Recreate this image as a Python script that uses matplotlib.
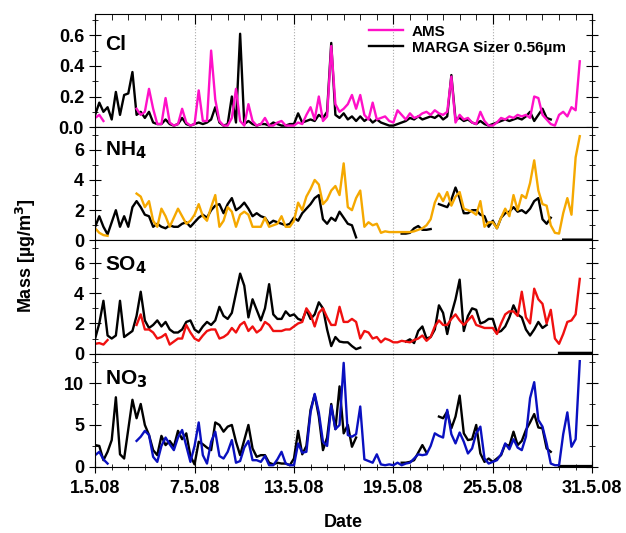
import numpy as np
import matplotlib.pyplot as plt
from matplotlib.ticker import MultipleLocator, FixedLocator

plt.rcParams['font.family'] = ['Liberation Sans', 'DejaVu Sans']
plt.rcParams['font.weight'] = 'bold'

nan = np.nan
# time axis: day of May 2008, 6-hourly
days = np.arange(1, 31.01, 0.25)
date_ticks = [1, 7, 13, 19, 25, 31]
date_labels = ['1.5.08', '7.5.08', '13.5.08', '19.5.08', '25.5.08', '31.5.08']

# Cl
cl_marga = [0.08, 0.16, 0.10, 0.13, 0.05, 0.23, 0.08, 0.21, 0.22, 0.36, 0.08, 0.10,
            0.06, 0.10, 0.03, 0.02, 0.02, 0.05, 0.02, 0.01, 0.02, 0.06, 0.02, 0.01,
            0.02, 0.03, 0.02, 0.03, 0.05, 0.13, 0.03, 0.01, 0.02, 0.20, 0.03, 0.61,
            0.02, 0.04, 0.02, 0.01, 0.02, 0.02, 0.01, 0.03, 0.02, 0.01, 0.01, 0.02,
            0.02, 0.09, 0.03, 0.04, 0.05, 0.04, 0.08, 0.06, 0.10, 0.55, 0.08, 0.06,
            0.09, 0.05, 0.07, 0.04, 0.07, 0.04, 0.06, 0.03, 0.05, 0.03, 0.02, 0.01,
            0.01, 0.02, 0.03, 0.04, 0.06, 0.05, 0.07, 0.05, 0.06, 0.07, 0.06, 0.08,
            0.05, 0.07, 0.34, 0.05, 0.06, 0.04, 0.05, 0.03, 0.02, 0.04, 0.02, 0.01,
            0.02, 0.03, 0.04, 0.05, 0.04, 0.05, 0.06, 0.05, 0.07, 0.10, 0.04, 0.08,
            0.12, 0.06, 0.05, nan, nan, nan, nan, nan, nan, nan, nan, nan, nan]
cl_ams = [0.06, 0.08, 0.04, nan, nan, nan, nan, nan, nan, nan, 0.12, 0.08,
          0.10, 0.25, 0.12, 0.02, 0.02, 0.19, 0.03, 0.01, 0.02, 0.12, 0.03, 0.01,
          0.02, 0.24, 0.04, 0.04, 0.50, 0.18, 0.04, 0.01, 0.01, 0.06, 0.25, 0.04,
          0.01, 0.15, 0.04, 0.01, 0.02, 0.06, 0.01, 0.01, 0.03, 0.04, 0.01, 0.01,
          0.01, 0.03, 0.02, 0.08, 0.13, 0.05, 0.20, 0.04, 0.07, 0.53, 0.15, 0.10,
          0.12, 0.15, 0.21, 0.12, 0.21, 0.08, 0.05, 0.16, 0.05, 0.06, 0.07, 0.04,
          0.03, 0.11, 0.08, 0.05, 0.09, 0.06, 0.07, 0.09, 0.10, 0.08, 0.11, 0.09,
          0.08, 0.10, 0.33, 0.03, 0.08, 0.05, 0.06, 0.03, 0.02, 0.10, 0.04, 0.01,
          0.01, 0.03, 0.06, 0.05, 0.07, 0.06, 0.08, 0.07, 0.08, 0.06, 0.20, 0.19,
          0.08, 0.05, 0.02, 0.01, 0.08, 0.10, 0.07, 0.13, 0.11, 0.43, nan, nan, nan]

# NH4
nh4_marga = [0.9, 1.6, 0.9, 0.4, 1.2, 2.0, 0.9, 1.6, 0.9, 2.2, 2.6, 2.2,
             1.7, 1.6, 0.9, 1.1, 0.9, 0.8, 1.0, 0.9, 0.9, 1.1, 1.2, 0.9,
             1.2, 1.5, 1.7, 1.5, 2.0, 2.3, 2.4, 1.8, 2.4, 2.8, 2.0, 2.2,
             2.5, 2.1, 1.6, 1.8, 1.6, 1.5, 1.1, 1.3, 1.2, 1.1, 1.0, 1.1,
             1.5, 1.3, 1.8, 2.1, 2.4, 2.8, 3.0, 1.4, 1.1, 1.5, 1.3, 1.9,
             1.5, 1.1, 1.0, 0.2, nan, nan, nan, nan, nan, nan, nan, nan,
             nan, nan, 0.45, 0.45, 0.5, 0.8, 0.95, 0.7, 0.7, 0.75, nan, 2.4,
             2.3, 2.2, 2.7, 3.5, 2.8, 1.8, 1.8, 2.0, 2.0, 1.7, 1.6, 0.9,
             1.3, 0.8, 1.5, 1.8, 1.9, 2.2, 1.9, 2.0, 1.8, 2.1, 2.6, 2.8,
             1.4, 1.1, 1.5, nan, nan, 0.05, 0.05, 0.05, 0.05, 0.05, 0.05, 0.05, 0.05]
nh4_ams = [0.8, 0.5, 0.35, 0.3, nan, nan, nan, nan, nan, nan, 3.1, 2.9,
           2.2, 2.6, 1.3, 0.9, 2.1, 1.6, 0.9, 1.5, 2.1, 1.6, 1.1, 1.3,
           1.7, 2.4, 1.6, 1.3, 2.2, 3.0, 0.9, 1.3, 2.2, 1.9, 0.9, 1.7,
           1.9, 1.7, 0.9, 0.9, 0.9, 1.5, 0.9, 1.0, 1.1, 1.6, 0.9, 0.9,
           1.3, 2.5, 2.0, 2.9, 3.4, 4.0, 3.7, 2.4, 2.7, 3.3, 3.6, 3.0,
           5.1, 2.2, 2.0, 2.8, 3.3, 0.9, 1.2, 1.0, 1.1, 0.5, 0.6, 0.55,
           0.55, 0.55, 0.55, 0.55, 0.55, 0.6, 0.7, 0.8, 1.0, 1.4, 2.5, 3.1,
           2.6, 3.2, 2.3, 2.9, 3.2, 2.1, 2.0, 1.9, 1.7, 2.6, 0.9, 1.2,
           1.2, 0.8, 1.5, 2.1, 1.6, 3.0, 2.0, 3.0, 2.8, 3.8, 5.3, 3.3,
           2.4, 2.3, 1.0, 0.5, 0.45, 1.8, 2.8, 1.7, 5.5, 6.9, nan, nan, nan]

# SO4
so4_marga = [1.0, 2.0, 3.5, 1.2, 1.0, 1.2, 3.5, 1.1, 1.3, 1.5, 2.5, 4.1,
             2.2, 1.7, 1.9, 2.2, 1.8, 2.1, 1.6, 1.4, 1.4, 1.6, 2.1, 2.2,
             1.6, 1.4, 1.8, 2.1, 1.9, 2.2, 3.1, 2.5, 2.3, 2.7, 4.0, 5.3,
             4.5, 2.4, 3.6, 2.9, 2.2, 3.0, 4.6, 2.6, 2.3, 2.3, 2.8, 2.5,
             2.6, 2.3, 2.2, 2.9, 2.3, 2.6, 3.4, 3.0, 1.6, 0.5, 1.1, 0.8,
             0.75, 0.75, 0.5, 0.3, 0.4, nan, nan, nan, nan, nan, nan, nan,
             nan, nan, nan, 0.8, 0.95, 0.7, 1.5, 1.8, 1.0, 1.1, 1.6, 3.2,
             2.7, 1.3, 2.6, 3.6, 4.9, 1.5, 2.5, 3.0, 2.9, 2.0, 2.1, 2.3,
             2.3, 1.4, 1.5, 1.8, 2.4, 3.2, 2.6, 2.4, 1.6, 1.2, 1.6, 2.1,
             1.7, 1.9, nan, nan, 0.05, 0.05, 0.05, 0.05, 0.05, 0.05, 0.05, 0.05, 0.05]
so4_ams = [0.65, 0.7, 0.6, 0.9, nan, nan, nan, nan, nan, nan, 1.9, 2.6,
           1.6, 1.6, 1.4, 1.0, 1.1, 1.3, 0.6, 0.8, 1.0, 1.0, 1.9, 1.4,
           1.0, 0.85, 1.2, 1.5, 1.6, 1.6, 1.0, 1.1, 1.3, 1.7, 1.4, 1.9,
           2.1, 1.5, 1.8, 1.4, 1.6, 2.1, 1.9, 1.5, 1.5, 1.5, 1.6, 1.6,
           1.8, 2.0, 2.1, 3.0, 2.6, 1.8, 2.7, 3.0, 2.4, 1.9, 1.9, 3.1,
           2.1, 2.1, 2.3, 2.1, 1.0, 1.5, 1.4, 1.0, 1.1, 0.75, 1.0, 0.9,
           0.75, 0.75, 0.85, 0.8, 0.75, 0.9, 1.0, 1.2, 0.85, 1.1, 1.8, 2.2,
           1.9, 1.9, 2.3, 2.6, 2.2, 1.9, 2.2, 2.5, 1.9, 1.8, 1.7, 1.7,
           1.7, 1.3, 2.0, 2.6, 2.8, 2.8, 2.5, 4.1, 2.4, 2.0, 4.3, 3.6,
           3.3, 2.0, 2.9, 1.0, 0.65, 1.3, 2.1, 2.2, 2.6, 4.95, nan, nan, nan]

# NO3
no3_marga = [2.6, 2.5, 0.8, 1.8, 3.2, 8.3, 1.5, 1.0, 4.5, 8.0, 5.8, 7.5,
             5.0, 3.8, 2.0, 1.4, 3.7, 2.6, 3.1, 2.4, 4.3, 3.3, 4.0, 1.3,
             0.3, 3.0, 2.7, 2.3, 2.0, 5.3, 5.0, 4.2, 4.8, 5.0, 3.0, 1.4,
             3.2, 5.0, 2.2, 1.2, 1.4, 1.4, 0.5, 0.3, 0.5, 0.4, 0.4, 0.2,
             1.0, 4.3, 1.5, 2.5, 6.8, 8.6, 6.0, 2.0, 3.5, 7.5, 4.5, 9.6,
             4.0, 5.0, 2.4, 3.5, nan, nan, nan, nan, nan, nan, nan, nan,
             nan, nan, 0.5, 0.5, 0.6, 0.8, 1.7, 2.6, 1.7, nan, nan, 6.0,
             5.8, 6.6, 4.6, 6.0, 8.5, 4.0, 3.2, 3.3, 5.0, 1.6, 0.6, 1.0,
             0.6, 1.0, 1.4, 2.7, 2.5, 4.2, 2.6, 3.1, 4.4, 5.3, 6.3, 4.7,
             4.6, 2.2, 1.8, nan, 0.1, 0.1, 0.1, 0.1, 0.1, 0.1, 0.1, 0.1, 0.1]
no3_ams = [1.4, 1.8, 0.9, 0.4, nan, nan, nan, nan, nan, nan, 3.1, 3.6,
           4.3, 3.8, 1.2, 0.6, 2.5, 3.5, 2.7, 2.0, 3.5, 4.4, 2.5, 0.6,
           2.5, 5.3, 1.4, 0.4, 3.0, 4.2, 1.3, 1.0, 1.8, 3.2, 0.5, 0.7,
           2.3, 3.1, 0.8, 0.8, 0.6, 1.3, 0.2, 0.2, 0.9, 1.8, 0.4, 0.2,
           0.2, 2.8, 1.7, 1.8, 6.5, 8.7, 6.5, 3.0, 2.5, 7.3, 4.5, 5.0,
           12.4, 3.8, 3.6, 3.9, 7.2, 0.9, 0.7, 0.5, 1.5, 0.3, 0.2, 0.3,
           0.2, 0.5, 0.2, 0.4, 0.5, 1.0, 1.5, 1.4, 1.5, 2.5, 4.0, 3.7,
           3.5, 6.8, 3.9, 2.8, 4.1, 3.0, 1.6, 2.2, 4.0, 4.8, 1.0, 0.4,
           0.6, 0.8, 1.5, 2.8, 2.1, 3.3, 2.3, 2.0, 3.6, 8.2, 10.1, 5.6,
           4.8, 2.8, 0.4, 0.2, 0.2, 3.9, 6.5, 2.4, 3.3, 12.6, nan, nan, nan]

panels = [
    ('Cl', cl_marga, cl_ams, '#ff10c8', 0.74, 0.2, 0.1),
    ('NH$_4$', nh4_marga, nh4_ams, '#f5a800', 7.5, 2, 1),
    ('SO$_4$', so4_marga, so4_ams, '#f01010', 7.5, 2, 1),
    ('NO$_3$', no3_marga, no3_ams, '#0a10c0', 13.5, 5, 2.5),
]
label_y = [0.81, 0.89, 0.88, 0.87]

fig = plt.figure(figsize=(6.26, 5.33), dpi=100)
left, right, top, bottom = 0.152, 0.946, 0.974, 0.124
h = (top - bottom) / 4

for i, (name, marga, ams, col, ymax, major, minor) in enumerate(panels):
    ax = fig.add_axes([left, top - (i + 1) * h, right - left, h])
    for d in date_ticks[1:-1]:
        ax.axvline(d, color='#aaaaaa', ls=':', lw=0.8, zorder=0)
    ax.plot(days, marga, color='black', lw=1.7, label='MARGA Sizer 0.56µm')
    ax.plot(days, ams, color=col, lw=1.7, label='AMS')
    ax.set_xlim(1, 31)
    ax.set_ylim(0, ymax)
    ax.yaxis.set_major_locator(MultipleLocator(major))
    ax.yaxis.set_minor_locator(MultipleLocator(minor))
    ax.tick_params(axis='y', which='both', direction='inout', left=True, right=True,
                   labelsize=13)
    ax.tick_params(axis='y', which='major', length=9)
    ax.tick_params(axis='y', which='minor', length=5)
    ax.xaxis.set_major_locator(FixedLocator(date_ticks))
    ax.xaxis.set_minor_locator(MultipleLocator(1))
    if i == 0:
        ax.tick_params(axis='x', which='both', top=True, bottom=False, direction='in',
                       labelbottom=False)
        ax.tick_params(axis='x', which='major', length=7)
        ax.tick_params(axis='x', which='minor', length=4)
        handles, labels = ax.get_legend_handles_labels()
        ax.legend(handles[::-1], labels[::-1], loc='upper left', bbox_to_anchor=(0.53, 1.0),
                  frameon=False, fontsize=11, handlelength=2.2, handletextpad=0.6,
                  labelspacing=0.15, borderaxespad=0.3)
    elif i == 3:
        ax.tick_params(axis='x', which='both', direction='inout', bottom=True, top=False,
                       labelsize=13, pad=5)
        ax.tick_params(axis='x', which='major', length=9)
        ax.tick_params(axis='x', which='minor', length=5)
        ax.set_xticklabels(date_labels)
        ax.set_xlabel('Date', fontsize=13, fontweight='bold', labelpad=12)
    else:
        ax.tick_params(axis='x', which='both', bottom=False, top=False, labelbottom=False)
    ax.text(0.02, label_y[i], name, transform=ax.transAxes, fontsize=15, fontweight='bold',
            va='top', ha='left')

fig.text(0.042, 0.52, 'Mass [µg/m$^3$]', rotation=90, fontsize=13, fontweight='bold',
         ha='center', va='center')

fig.savefig('out.png', dpi=100)
